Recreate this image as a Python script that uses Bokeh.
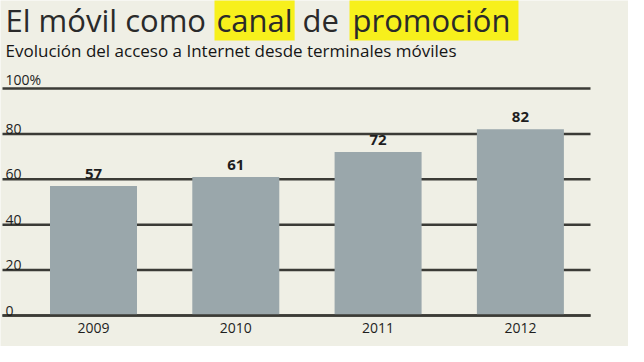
from bokeh.plotting import figure
from bokeh.models import Range1d, Label
from bokeh.embed import file_html
from bokeh.resources import INLINE
from bokeh.core.properties import value

# ---- data ----
years = ["2009", "2010", "2011", "2012"]
values = [57, 61, 72, 82]
grid_vals = [0, 20, 40, 60, 80, 100]
grid_labels = ["0", "20", "40", "60", "80", "100%"]
title_parts = ["El móvil como", "canal", "de", "promoción"]
subtitle = "Evolución del acceso a Internet desde terminales móviles"

# ---- layout ----
W, H = 628, 346
PX_PER_X = 142.3
X0_PX = 93.0
PX_PER_Y = 2.27
Y0_PX = 315.0
x_start = -X0_PX / PX_PER_X
x_end = x_start + W / PX_PER_X
y_end = Y0_PX / PX_PER_Y
y_start = y_end - H / PX_PER_Y


def dx(px):
    return x_start + px / PX_PER_X


def dy(py):
    return y_end - py / PX_PER_Y


BG = "#efefe5"
BAR = "#9aa7ab"
LINE = "#3b3b36"
TXT = "#1e1e1e"
YEL = "#f7f01c"
FONT = "Open Sans"

p = figure(width=W, height=H, output_backend="svg", toolbar_location=None,
           x_range=Range1d(x_start, x_end), y_range=Range1d(y_start, y_end),
           min_border=0, background_fill_color=BG, border_fill_color=BG)
p.axis.visible = False
p.grid.visible = False
p.outline_line_color = None

idx = list(range(len(years)))

# gridlines
p.segment(x0=[dx(2)] * len(grid_vals), x1=[dx(590)] * len(grid_vals),
          y0=grid_vals, y1=grid_vals, line_color=LINE, line_width=2.5)

# bars
p.vbar(x=idx, top=values, bottom=0, width=87 / PX_PER_X,
       fill_color=BAR, line_color=None)

# baseline on top
p.segment(x0=[dx(2)], x1=[dx(590)], y0=[grid_vals[0]], y1=[grid_vals[0]],
          line_color=LINE, line_width=2.5)

# tick labels
p.text(x=[dx(5)] * len(grid_vals), y=grid_vals, text=grid_labels,
       text_baseline="bottom", text_align="left", y_offset=0,
       text_font=value(FONT), text_font_size="14px", text_color=TXT)

# year labels
p.text(x=idx, y=[0] * len(years), text=years, text_baseline="middle",
       text_align="center", y_offset=12, text_font=value(FONT),
       text_font_size="14px", text_color=TXT)

# value labels
p.text(x=idx, y=values, text=[str(v) for v in values],
       text_baseline="bottom", text_align="center", y_offset=-7,
       text_font=value(FONT), text_font_size="15px", text_font_style="bold",
       text_color=TXT)

# title parts (highlighted parts get a yellow box)
part_x = [5, 214, 302, 349]
part_pad = [None,
            dict(left=2, right=2, top=2, bottom=0),
            None,
            dict(left=3, right=8, top=2, bottom=0)]
for t, xp, pad in zip(title_parts, part_x, part_pad):
    kw = {}
    if pad is not None:
        kw = dict(background_fill_color=YEL, padding=pad)
    p.add_layout(Label(x=dx(xp), y=dy(40), text=t, text_font=FONT,
                       text_font_size="31px", text_color="#2a2a2a",
                       text_baseline="bottom", **kw))

p.add_layout(Label(x=dx(5), y=dy(61), text=subtitle, text_font=FONT,
                   text_font_size="17px", text_color="#151515",
                   text_baseline="bottom"))

open("out.html", "w").write(file_html(p, INLINE))
